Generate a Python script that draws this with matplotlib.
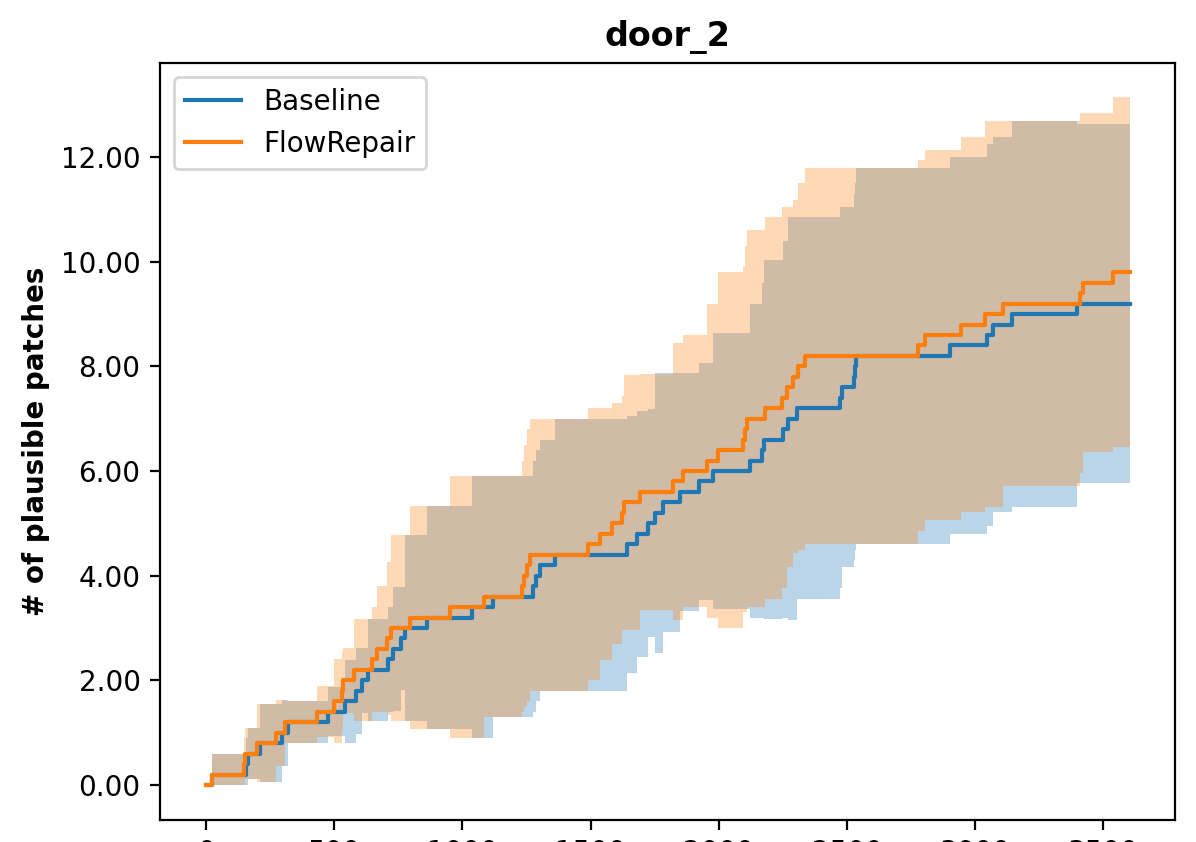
"""door_2: plausible patches over time, Baseline vs FlowRepair."""
import numpy as np
import matplotlib
matplotlib.use("Agg")
import matplotlib.pyplot as plt

# step start times and mean / std of plausible patches (5 runs)
baseline_t = [0, 22, 156, 162, 211, 295, 321, 477, 542, 585, 608, 632, 710,
              729, 760, 775, 861, 1036, 1120, 1277, 1287, 1303, 1361, 1641,
              1680, 1725, 1751, 1784, 1849, 1924, 1979, 2122, 2167, 2175,
              2252, 2271, 2304, 2473, 2480, 2527, 2531, 2535, 2902, 3045,
              3071, 3142, 3396, 3606]
baseline_mean = [0.0, 0.2, 0.4, 0.6, 0.8, 1.0, 1.2, 1.4, 1.6, 1.8, 2.0, 2.2,
                 2.4, 2.6, 2.8, 3.0, 3.2, 3.4, 3.6, 3.8, 4.0, 4.2, 4.4, 4.6,
                 4.8, 5.0, 5.2, 5.4, 5.6, 5.8, 6.0, 6.2, 6.4, 6.6, 6.8, 7.0,
                 7.2, 7.4, 7.6, 7.8, 8.0, 8.2, 8.4, 8.6, 8.8, 9.0, 9.2, 9.2]
baseline_std = [0.0, 0.4, 0.49, 0.49, 0.75, 0.63, 0.4, 0.47, 0.79, 0.82,
                0.62, 0.97, 1.0, 1.19, 0.99, 1.78, 2.13, 2.5, 2.3, 2.4, 2.4,
                2.4, 2.6, 2.45, 2.35, 2.18, 2.67, 2.47, 2.27, 2.26, 2.63, 3.0,
                3.2, 3.43, 3.6, 3.85, 3.65, 3.64, 3.44, 3.5, 3.5, 3.59, 3.6,
                3.65, 3.59, 3.68, 3.43, 3.43]

flowrepair_t = [0, 22, 149, 152, 198, 273, 308, 432, 499, 528, 533, 577, 646,
                666, 707, 720, 795, 952, 1082, 1231, 1240, 1250, 1262, 1491,
                1537, 1582, 1621, 1630, 1693, 1823, 1859, 1953, 1998, 2096,
                2102, 2109, 2180, 2245, 2265, 2291, 2310, 2336, 2778, 2804,
                2943, 3038, 3110, 3409, 3422, 3539, 3606]
flowrepair_mean = [0.0, 0.2, 0.4, 0.6, 0.8, 1.0, 1.2, 1.4, 1.6, 1.8, 2.0, 2.2,
                   2.4, 2.6, 2.8, 3.0, 3.2, 3.4, 3.6, 3.8, 4.0, 4.2, 4.4, 4.6,
                   4.8, 5.0, 5.2, 5.4, 5.6, 5.8, 6.0, 6.2, 6.4, 6.6, 6.8, 7.0,
                   7.2, 7.4, 7.6, 7.8, 8.0, 8.2, 8.4, 8.6, 8.8, 9.0, 9.2, 9.4,
                   9.6, 9.8, 9.8]
flowrepair_std = [0.0, 0.4, 0.49, 0.49, 0.75, 0.63, 0.4, 0.49, 0.8, 0.75,
                  0.62, 0.98, 1.0, 1.2, 1.47, 1.78, 2.13, 2.5, 2.3, 2.4, 2.5,
                  2.6, 2.6, 2.6, 2.41, 2.3, 2.24, 2.44, 2.26, 2.64, 2.6, 3.0,
                  3.4, 3.3, 3.5, 3.6, 3.65, 3.64, 3.44, 3.37, 3.5, 3.59, 3.54,
                  3.53, 3.59, 3.68, 3.48, 3.44, 3.24, 3.35, 3.35]

series = [
    ("Baseline", baseline_t, baseline_mean, baseline_std, "tab:blue"),
    ("FlowRepair", flowrepair_t, flowrepair_mean, flowrepair_std, "tab:orange"),
]

fig = plt.figure(figsize=(5.98, 4.21), dpi=200)
ax = fig.add_axes([0.1338, 0.0261, 0.8487, 0.899])

# bands first, lines on top
for name, t, mean, std, color in series:
    mean = np.array(mean)
    std = np.array(std)
    lower = np.clip(mean - std, 0, None)
    upper = mean + std
    ax.fill_between(t, lower, upper, step="post", color=color, alpha=0.3,
                    linewidth=0)

for name, t, mean, std, color in series:
    ax.step(t, mean, where="post", color=color, label=name, linewidth=1.5)

ax.set_xlim(-180, 3780)
ax.set_ylim(-0.669, 13.796)
ax.set_xticks(np.arange(0, 3501, 500))
ax.set_yticks(np.arange(0, 13, 2))
ax.yaxis.set_major_formatter(matplotlib.ticker.FormatStrFormatter("%.2f"))

ax.set_title("door_2", fontsize=12, fontweight="bold")
ax.set_ylabel("# of plausible patches", fontsize=10, fontweight="bold")
ax.legend(loc="upper left")

fig.savefig("out.png", dpi=200)
